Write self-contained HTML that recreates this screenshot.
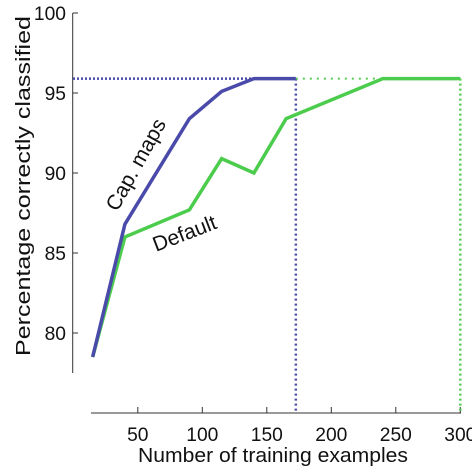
<!DOCTYPE html>
<html><head><meta charset="utf-8"><style>
body{margin:0;background:#fff}
svg text{font-family:"Liberation Sans",sans-serif;fill:#111}
</style></head><body>
<svg width="472" height="466">
<g id="g"></g>
</svg>
<script>
const xTicks=[50,100,150,200,250,300];
const yTicks=[80,85,90,95,100];
const capX=[15,40,90,115,140,172.5];
const capY=[78.5,86.8,93.4,95.1,95.9,95.9];
const defX=[15,40,90,115,140,165,240,300];
const defY=[78.5,86,87.7,90.9,90.0,93.4,95.9,95.9];
const capMax=95.9, capEnd=172.5, defEnd=300;
const sx=v=>73.3+v*1.29;
const sy=v=>333-(v-80)*16;
const g=document.getElementById('g');
const NS='http://www.w3.org/2000/svg';
function mk(t,a,p){const e=document.createElementNS(NS,t);for(const k in a)e.setAttribute(k,a[k]);(p||g).appendChild(e);return e;}
let e;
e=mk('line',{x1:72.7,y1:sy(100),x2:72.7,y2:373,stroke:'#333','stroke-width':1});

e=mk('line',{x1:91,y1:413,x2:461,y2:413,stroke:'#333','stroke-width':1});

yTicks.forEach(v=>{mk('line',{x1:72.7,y1:sy(v),x2:78,y2:sy(v),stroke:'#333'});
 const s=String(v);
 e=mk('text',{x:66,y:sy(v)+7,'text-anchor':'end','font-size':19.5,textLength:s.length*10.7,lengthAdjust:'spacingAndGlyphs'});e.textContent=s;
 });
xTicks.forEach(v=>{mk('line',{x1:sx(v),y1:413,x2:sx(v),y2:407,stroke:'#333'});
 const s=String(v);
 e=mk('text',{x:sx(v),y:441,'text-anchor':'middle','font-size':19.5,textLength:s.length*10.7,lengthAdjust:'spacingAndGlyphs'});e.textContent=s;
 });
e=mk('line',{x1:73,y1:sy(capMax),x2:sx(capEnd),y2:sy(capMax),stroke:'#4a4aa8','stroke-width':2.5,'stroke-dasharray':'2,2'});

e=mk('line',{x1:sx(capEnd),y1:sy(capMax),x2:sx(capEnd),y2:413,stroke:'#4a4aa8','stroke-width':2.5,'stroke-dasharray':'2,3'});

e=mk('line',{x1:sx(capEnd),y1:sy(capMax),x2:sx(defEnd),y2:sy(capMax),stroke:'#55cc55','stroke-width':2,'stroke-dasharray':'2,5'});

e=mk('line',{x1:sx(defEnd),y1:sy(capMax),x2:sx(defEnd),y2:413,stroke:'#55cc55','stroke-width':2.5,'stroke-dasharray':'2,3'});

e=mk('polyline',{points:defX.map((x,i)=>sx(x)+','+sy(defY[i])).join(' '),fill:'none',stroke:'#4ccc4c','stroke-width':3.5});

e=mk('polyline',{points:capX.map((x,i)=>sx(x)+','+sy(capY[i])).join(' '),fill:'none',stroke:'#4a4aaa','stroke-width':3.5});

e=mk('text',{x:0,y:0,'font-size':21,transform:'translate(142,168) rotate(-61)','text-anchor':'middle'});e.textContent='Cap. maps';

e=mk('text',{x:0,y:0,'font-size':21,transform:'translate(187,240) rotate(-21)','text-anchor':'middle'});e.textContent='Default';

e=mk('text',{x:0,y:0,'font-size':20,transform:'translate(30,186) rotate(-90)','text-anchor':'middle',textLength:340,lengthAdjust:'spacingAndGlyphs'});e.textContent='Percentage correctly classified';

e=mk('text',{x:273,y:462,'font-size':20,'text-anchor':'middle',textLength:270,lengthAdjust:'spacingAndGlyphs'});e.textContent='Number of training examples';

</script>
</body></html>
